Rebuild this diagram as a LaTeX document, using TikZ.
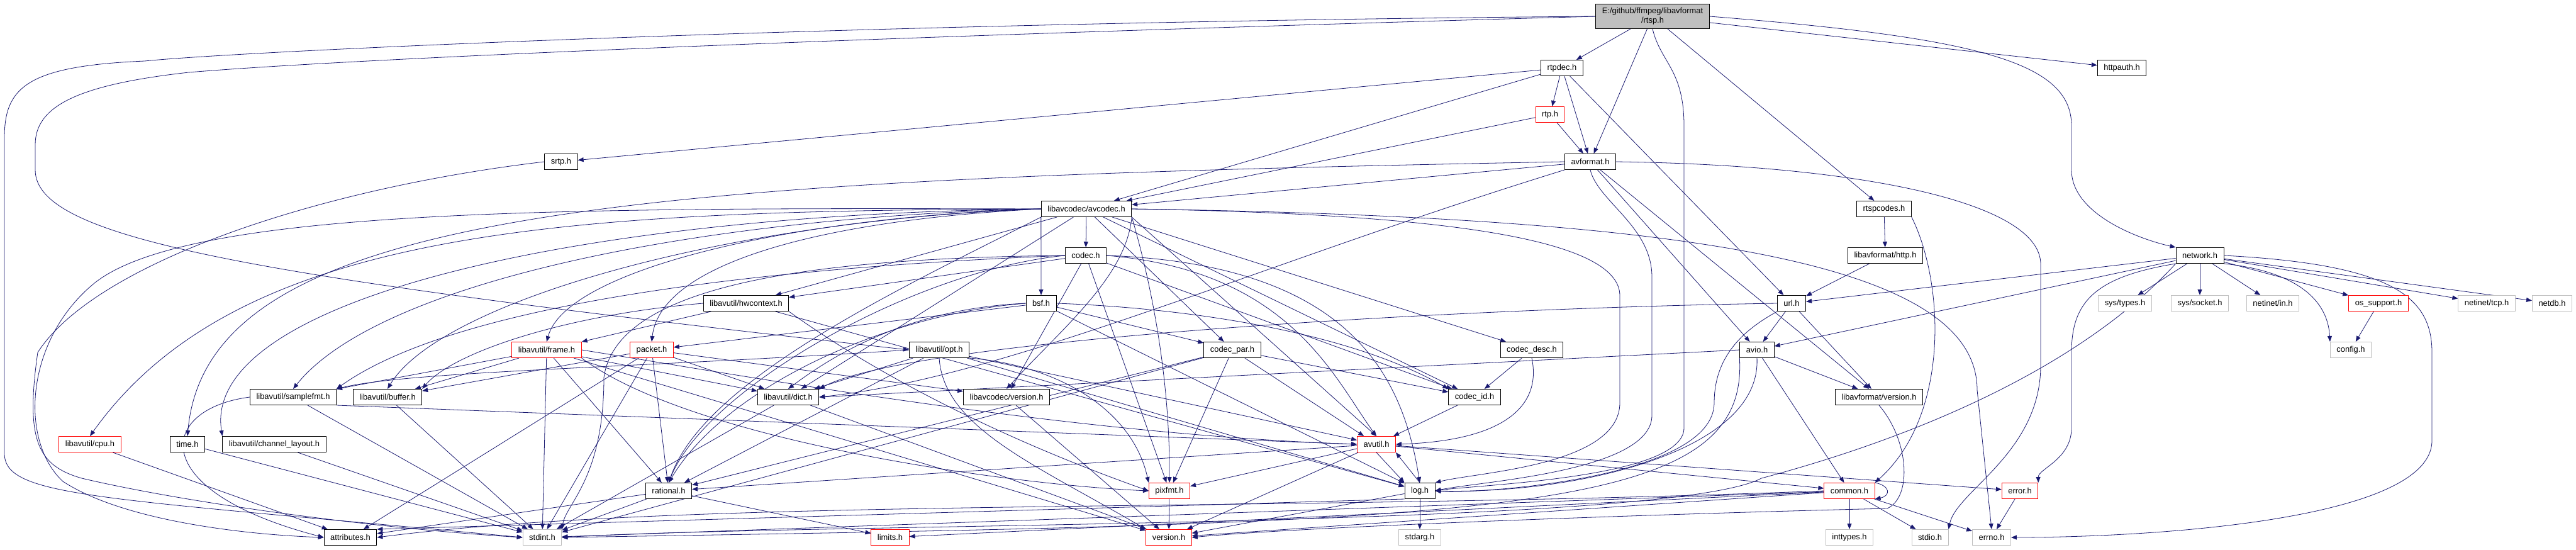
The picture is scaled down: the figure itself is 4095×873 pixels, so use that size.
\documentclass[tikz,border=0pt]{standalone}
\usepackage{fontspec}
\setmainfont{Liberation Sans}
\usetikzlibrary{arrows.meta, positioning}
\definecolor{edgeblue}{HTML}{191970}
\definecolor{sysgray}{HTML}{BFBFBF}
\pgfdeclarelayer{background}
\pgfsetlayers{background,main}

\begin{document}
\begin{tikzpicture}[x=1pt, y=-1pt,
  file/.style={rectangle, draw=black, fill=white, line width=1pt, minimum height=25pt, inner xsep=10pt, inner ysep=2pt, font=\fontsize{12.9}{15}\selectfont},
  cut/.style={file, draw=red},
  sys/.style={file, draw=sysgray},
  root/.style={file, fill=sysgray, align=center, inner ysep=6pt},
  inc/.style={draw=edgeblue, line width=0.8pt, -{Triangle[length=9pt, width=7pt]}}
]
  \useasboundingbox (0,0) rectangle (4095,873);

  \node[root] (rtsp) at (2627,26) {E:/github/ffmpeg/libavformat\\/rtsp.h};
  \node[file] (rtpdec) at (2483,108) {rtpdec.h};
  \node[file] (httpauth) at (3373,108) {httpauth.h};
  \node[cut] (rtp) at (2464,182) {rtp.h};
  \node[file] (srtp) at (892,257) {srtp.h};
  \node[file] (avformat) at (2528,257) {avformat.h};
  \node[file] (avcodec) at (1727,332) {libavcodec/avcodec.h};
  \node[file] (rtspcodes) at (2995,332) {rtspcodes.h};
  \node[file] (codec) at (1726,406) {codec.h};
  \node[file] (http) at (2997,406) {libavformat/http.h};
  \node[file] (network) at (3497,406) {network.h};
  \node[file] (hwcontext) at (1186,482) {libavutil/hwcontext.h};
  \node[file] (bsf) at (1655,482) {bsf.h};
  \node[file] (url) at (2848,482) {url.h};
  \node[sys] (systypes) at (3378,482) {sys/types.h};
  \node[sys] (syssocket) at (3497,482) {sys/socket.h};
  \node[sys] (netin) at (3613,482) {netinet/in.h};
  \node[cut] (ossupport) at (3781,482) {os\_support.h};
  \node[sys] (nettcp) at (3953,482) {netinet/tcp.h};
  \node[sys] (netdb) at (4057,482) {netdb.h};
  \node[cut] (frame) at (869,556) {libavutil/frame.h};
  \node[cut] (packet) at (1036,556) {packet.h};
  \node[file] (opt) at (1493,556) {libavutil/opt.h};
  \node[file] (codecpar) at (1959,556) {codec\_par.h};
  \node[file] (codecdesc) at (2435,556) {codec\_desc.h};
  \node[file] (avio) at (2793,556) {avio.h};
  \node[sys] (config) at (3737,556) {config.h};
  \node[file] (samplefmt) at (466,631) {libavutil/samplefmt.h};
  \node[file] (buffer) at (616,631) {libavutil/buffer.h};
  \node[file] (dict) at (1253,631) {libavutil/dict.h};
  \node[file] (lavcver) at (1600,631) {libavcodec/version.h};
  \node[file] (codecid) at (2344,631) {codec\_id.h};
  \node[file] (lavfver) at (2987,631) {libavformat/version.h};
  \node[cut] (cpu) at (143,706) {libavutil/cpu.h};
  \node[file] (time) at (298,706) {time.h};
  \node[file] (chlayout) at (436,706) {libavutil/channel\_layout.h};
  \node[cut] (avutil) at (2188,706) {avutil.h};
  \node[file] (rational) at (1063,780) {rational.h};
  \node[cut] (pixfmt) at (1859,780) {pixfmt.h};
  \node[file] (log) at (2257,780) {log.h};
  \node[cut] (common) at (2940,780) {common.h};
  \node[cut] (error) at (3211,780) {error.h};
  \node[file] (attributes) at (557,854) {attributes.h};
  \node[sys] (stdint) at (862,854) {stdint.h};
  \node[cut] (limits) at (1415,854) {limits.h};
  \node[cut] (version) at (1858,854) {version.h};
  \node[sys] (stdarg) at (2257,854) {stdarg.h};
  \node[sys] (inttypes) at (2940,854) {inttypes.h};
  \node[sys] (stdio) at (3068,854) {stdio.h};
  \node[sys] (errno) at (3166,854) {errno.h};

  \begin{pgfonlayer}{background}
  \foreach \a/\b in {rtsp/rtpdec, rtsp/avformat, rtsp/rtspcodes, rtsp/httpauth,
      rtpdec/avcodec, rtpdec/avformat, rtpdec/rtp, rtpdec/url, rtpdec/srtp,
      rtp/avformat, rtp/avcodec, avformat/avcodec, avformat/avio, avformat/lavfver,
      avcodec/codec, avcodec/hwcontext, avcodec/dict, avcodec/codecdesc, avcodec/codecpar, avcodec/codecid,
      codec/hwcontext, codec/pixfmt, codec/codecid, codec/lavcver,
      bsf/log, bsf/codecpar, bsf/packet,
      codecpar/stdint, codecpar/avutil, codecpar/rational, codecpar/pixfmt, codecpar/codecid,
      codecdesc/codecid, codecid/avutil,
      packet/stdint, packet/attributes, packet/buffer, packet/dict, packet/rational, packet/lavcver,
      frame/stdint, frame/buffer, frame/samplefmt, frame/dict, frame/rational, frame/version,
      hwcontext/frame, hwcontext/log, opt/rational, opt/avutil, opt/dict, opt/log,
      dict/stdint, dict/version, samplefmt/stdint, buffer/stdint, cpu/attributes, time/stdint, chlayout/stdint,
      rational/stdint, rational/limits, rational/attributes,
      avutil/common, avutil/error, avutil/rational, avutil/version, avutil/pixfmt,
      log/stdarg, log/version, pixfmt/version,
      common/errno, common/inttypes, common/limits, common/stdint, common/stdio, common/version,
      avio/common, avio/lavfver, url/avio, url/lavfver, http/url, rtspcodes/http,
      network/systypes, network/syssocket, network/netin, network/ossupport, network/nettcp, network/netdb,
      network/avio, network/url, ossupport/config, error/errno, lavcver/version}
    \draw[inc] (\a) -- (\b);

  \draw[inc] (avcodec.south west) -- (bsf.north);
  \draw[inc] (avcodec.south east) -- (avutil.north);
  \draw[inc] (avutil.south) -- (log.north west);
  \draw[inc] (log.north) -- (avutil.south east);
  \draw[inc] (samplefmt.south east) -- (avutil.west);
  \draw[inc] (log.south west) -- (attributes.north east);
  \draw[inc] (avio.west) -- (dict.east);

  \draw[inc] (rtsp.west) .. controls (1400,35) and (400,80) .. (230,97) .. controls (40,105) and (7,140) .. (7,220) -- (7,720) .. controls (7,790) and (150,790) .. (stdint.west);
  \draw[inc] (rtsp.west) .. controls (1500,55) and (600,90) .. (300,115) .. controls (120,135) and (56,170) .. (56,230) -- (56,270) .. controls (56,380) and (400,440) .. (opt.west);
  \draw[inc] (rtsp.south) .. controls (2640,100) and (2677,110) .. (2677,200) -- (2677,680) .. controls (2677,760) and (2350,770) .. (log.east);
  \draw[inc] (rtsp.east) .. controls (3150,60) and (3293,100) .. (3293,200) -- (3293,270) .. controls (3293,340) and (3400,380) .. (network.north west);
  \draw[inc] (srtp.west) .. controls (500,300) and (150,420) .. (60,560) .. controls (40,700) and (60,740) .. (130,760) .. controls (300,800) and (600,840) .. (stdint.west);

  \draw[inc] (avformat.west) .. controls (1000,285) and (330,330) .. (time.north);
  \draw[inc] (avformat.south west) .. controls (2000,420) and (1600,600) .. (dict.east);
  \draw[inc] (avformat.south) .. controls (2540,320) and (2626,360) .. (2626,440) -- (2626,660) .. controls (2626,750) and (2350,765) .. (log.east);
  \draw[inc] (avformat.east) .. controls (2950,262) and (3244,320) .. (3244,420) -- (3244,580) .. controls (3244,720) and (3110,780) .. (stdio.north east);

  \draw[inc] (avcodec.east) .. controls (2700,345) and (3143,420) .. (3143,620) -- (errno.north);
  \draw[inc] (avcodec.east) .. controls (2300,340) and (2575,380) .. (2575,470) -- (2575,640) .. controls (2575,740) and (2350,750) .. (log.north east);
  \draw[inc] (avcodec.west) .. controls (1100,345) and (600,450) .. (samplefmt.north);
  \draw[inc] (avcodec.west) .. controls (1150,350) and (700,480) .. (buffer.north);
  \draw[inc] (avcodec.west) .. controls (1250,345) and (900,430) .. (frame.north);
  \draw[inc] (avcodec.west) .. controls (1300,350) and (1050,420) .. (packet.north);
  \draw[inc] (avcodec.west) .. controls (900,335) and (380,360) .. (cpu.north);
  \draw[inc] (avcodec.west) .. controls (900,340) and (320,480) .. (chlayout.north west);
  \draw[inc] (avcodec.west) .. controls (900,330) and (300,330) .. (150,450) .. controls (40,540) and (30,700) .. (100,765) .. controls (200,830) and (400,850) .. (attributes.west);
  \draw[inc] (avcodec.south west) .. controls (1450,450) and (1120,600) .. (rational.north);
  \draw[inc] (avcodec.south east) .. controls (1830,450) and (1860,600) .. (pixfmt.north);
  \draw[inc] (avcodec.south east) .. controls (1790,440) and (1690,520) .. (lavcver.north);

  \draw[inc] (codec.west) .. controls (1300,410) and (980,450) .. (960,600) .. controls (960,760) and (900,800) .. (stdint.north east);
  \draw[inc] (codec.east) .. controls (2050,430) and (2120,600) .. (avutil.north);
  \draw[inc] (codec.east) .. controls (2150,420) and (2230,600) .. (log.north);
  \draw[inc] (codec.west) .. controls (1450,430) and (1120,620) .. (rational.north);
  \draw[inc] (codec.west) .. controls (1100,430) and (700,500) .. (samplefmt.north east);

  \draw[inc] (bsf.west) .. controls (1450,490) and (1330,560) .. (dict.north);
  \draw[inc] (bsf.west) .. controls (1400,500) and (1150,620) .. (rational.north);
  \draw[inc] (bsf.east) .. controls (1900,490) and (2150,530) .. (codecid.north west);

  \draw[inc] (codecdesc.south) .. controls (2450,640) and (2400,700) .. (avutil.east);
  \draw[inc] (frame.east) .. controls (1200,600) and (1700,690) .. (avutil.west);
  \draw[inc] (frame.south east) .. controls (1100,700) and (1600,770) .. (pixfmt.west);
  \draw[inc] (hwcontext.west) .. controls (900,500) and (720,560) .. (buffer.north east);
  \draw[inc] (hwcontext.south east) .. controls (1400,600) and (1600,700) .. (pixfmt.west);
  \draw[inc] (opt.south east) .. controls (1680,580) and (1800,650) .. (pixfmt.north west);
  \draw[inc] (opt.south) .. controls (1500,680) and (1650,740) .. (version.north west);
  \draw[inc] (opt.west) .. controls (1000,585) and (650,590) .. (samplefmt.north east);
  \draw[inc] (samplefmt.west) .. controls (250,650) and (230,780) .. (attributes.west);

  \draw[inc] (url.west) .. controls (2300,490) and (1450,540) .. (dict.north east);
  \draw[inc] (url.south west) .. controls (2780,520) and (2725,560) .. (2725,640) .. controls (2725,760) and (2350,785) .. (log.east);
  \draw[inc] (avio.south) .. controls (2800,720) and (2500,785) .. (log.east);
  \draw[inc] (avio.south west) .. controls (2780,820) and (2400,830) .. (stdint.east);
  \draw[inc] (rtspcodes.south east) .. controls (3091,450) and (3100,660) .. (common.north east);
  \draw[inc] (lavfver.south) .. controls (3035,700) and (3040,790) .. (3000,808) .. controls (2700,815) and (2100,835) .. (version.east);
  \draw[inc] (common.north east) .. controls +(25,5) and +(25,-5) .. (common.south east);
  \draw[inc] (common.west) .. controls (2000,815) and (1100,790) .. (attributes.east);

  \draw[inc] (network.south east) .. controls (3640,430) and (3700,470) .. (config.north west);
  \draw[inc] (network.south west) .. controls (3330,440) and (3293,480) .. (3293,560) -- (3293,680) .. controls (3293,730) and (3240,745) .. (error.north east);
  \draw[inc] (network.east) .. controls (3800,420) and (3866,470) .. (3866,560) -- (3866,700) .. controls (3866,830) and (3400,854) .. (errno.east);
  \draw[inc] (network.south west) .. controls (3330,560) and (3100,680) .. (2800,760) .. controls (2650,840) and (1300,830) .. (stdint.east);
  \end{pgfonlayer}
\end{tikzpicture}
\end{document}
